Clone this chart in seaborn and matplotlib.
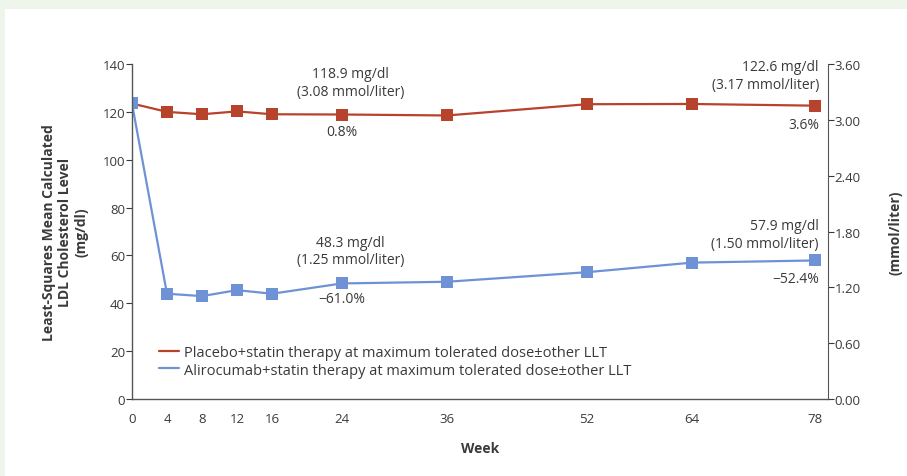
import pandas as pd
import matplotlib.pyplot as plt
import matplotlib.patches as mpatches
import seaborn as sns

weeks = [0, 4, 8, 12, 16, 24, 36, 52, 64, 78]
placebo = [123.5, 120.0, 119.0, 120.2, 119.0, 118.9, 118.5, 123.2, 123.3, 122.6]
alirocumab = [123.5, 44.0, 43.0, 45.5, 44.0, 48.3, 49.0, 53.0, 57.0, 57.9]
groups = ["Placebo+statin therapy at maximum tolerated dose\u00b1other LLT",
          "Alirocumab+statin therapy at maximum tolerated dose\u00b1other LLT"]
left_ticks = [0, 20, 40, 60, 80, 100, 120, 140]
right_ticks = [0.0, 0.6, 1.2, 1.8, 2.4, 3.0, 3.6]

df = pd.DataFrame({
    "Week": weeks * 2,
    "LDL": placebo + alirocumab,
    "Group": [groups[0]] * len(weeks) + [groups[1]] * len(weeks),
})

sns.set_style("white")
plt.rcParams['font.family'] = ['Open Sans', 'DejaVu Sans']
txt = "#3a3a3a"
red = "#b8432c"
blue = "#6f92d6"

fig = plt.figure(figsize=(9.07, 4.77), dpi=100)
fig.patch.set_facecolor("#eef5ea")
fig.patches.append(mpatches.Rectangle((5 / 907, 0), 1, 1 - 10 / 477, transform=fig.transFigure,
                                      facecolor="white", edgecolor="none", zorder=-5))
ax = fig.add_axes([0.1455, 0.1614, 0.767, 0.7023])
ax.set_facecolor("none")

sns.lineplot(data=df, x="Week", y="LDL", hue="Group", palette=[red, blue],
             marker="s", markersize=8, markeredgewidth=0, linewidth=1.6, ax=ax)

ax.set_xlim(0, 79.5)
ax.set_ylim(0, 140)
ax.set_xticks(weeks)
ax.set_yticks(left_ticks)
ax.tick_params(axis="x", direction="in", length=4, colors=txt, labelsize=9.5, pad=9)
ax.tick_params(axis="y", direction="out", length=4, colors=txt, labelsize=9.5, pad=1)
for s in ["top", "right"]:
    ax.spines[s].set_visible(False)
for s in ["left", "bottom"]:
    ax.spines[s].set_color("#555555")
    ax.spines[s].set_linewidth(1.0)

ax.set_xlabel("Week", fontsize=10, fontweight="bold", color=txt, labelpad=12)
ax.set_ylabel("Least-Squares Mean Calculated\nLDL Cholesterol Level\n(mg/dl)",
              fontsize=10, fontweight="bold", color=txt, labelpad=10)

ax2 = ax.twinx()
ax2.set_ylim(0, 3.565)
ax2.set_yticks(right_ticks)
ax2.set_yticklabels([f"{v:.2f}" for v in right_ticks])
ax2.tick_params(axis="y", direction="out", length=4, colors=txt, labelsize=9.5, pad=1)
for s in ["top", "left", "bottom"]:
    ax2.spines[s].set_visible(False)
ax2.spines["right"].set_color("#555555")
ax2.set_ylabel("(mmol/liter)", fontsize=10, fontweight="bold", color=txt, labelpad=20)

kw = dict(fontsize=10, color=txt, linespacing=1.25)
ax.text(25, 125.5, "118.9 mg/dl\n(3.08 mmol/liter)", ha="center", va="bottom", **kw)
ax.text(24, 115, "0.8%", ha="center", va="top", **kw)
ax.text(78.5, 128.5, "122.6 mg/dl\n(3.17 mmol/liter)", ha="right", va="bottom", **kw)
ax.text(78.5, 118, "3.6%", ha="right", va="top", **kw)
ax.text(25, 55, "48.3 mg/dl\n(1.25 mmol/liter)", ha="center", va="bottom", **kw)
ax.text(24, 45, "\u221261.0%", ha="center", va="top", **kw)
ax.text(78.5, 62, "57.9 mg/dl\n(1.50 mmol/liter)", ha="right", va="bottom", **kw)
ax.text(78.5, 53.5, "\u221252.4%", ha="right", va="top", **kw)

leg = ax.legend(loc="lower left", bbox_to_anchor=(0.02, 0.025), frameon=False,
                fontsize=10.5, handlelength=1.4, handletextpad=0.3, labelspacing=0.15)
for h in leg.legend_handles:
    h.set_marker("")
for t in leg.get_texts():
    t.set_color(txt)

fig.savefig("out.png", dpi=100, facecolor=fig.get_facecolor())
